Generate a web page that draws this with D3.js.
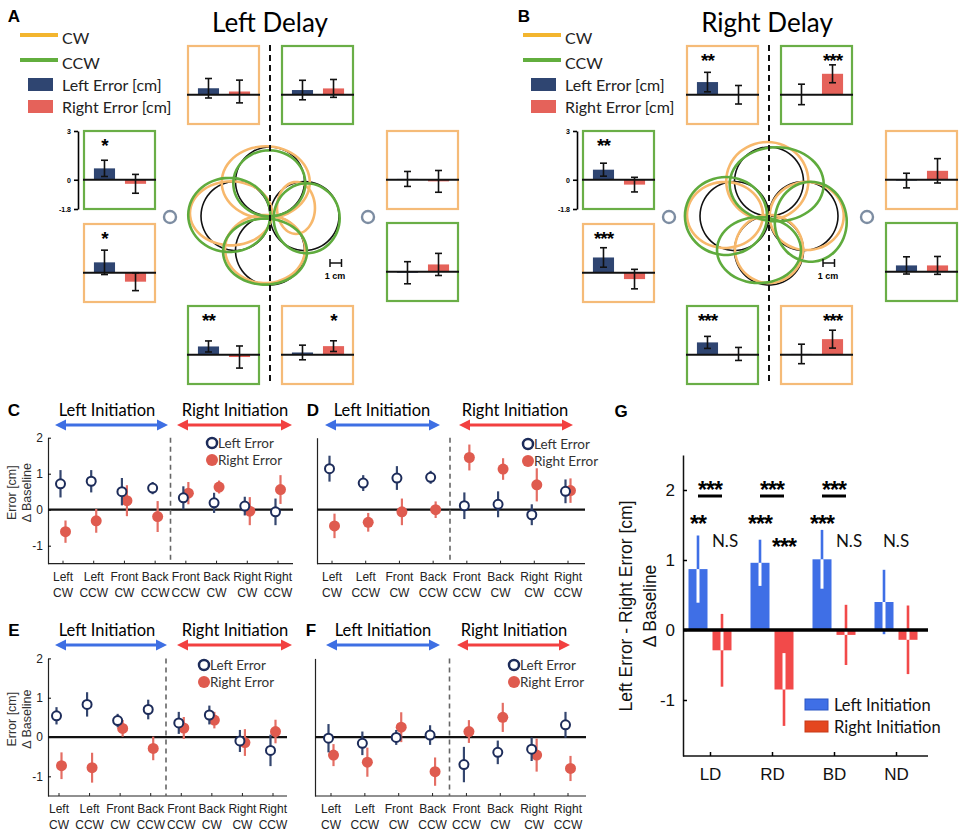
<!DOCTYPE html>
<html>
<head>
<meta charset="utf-8">
<script src="https://cdn.jsdelivr.net/npm/d3@7"></script>
<style>
  body { margin: 0; background: #fff; }
  svg { display: block; }
</style>
</head>
<body>
<svg id="fig" width="963" height="837"></svg>
<script>
(function (d3) {
    'use strict';

    // ---- panels A / B : mini bar boxes around the flower ----
    var miniPositions = ['topL', 'topR', 'leftU', 'leftL', 'rightU', 'rightL', 'botL', 'botR'];
    var miniDirs = ['CW', 'CCW', 'CCW', 'CW', 'CW', 'CCW', 'CCW', 'CW'];

    var leftDelayL = [0.4, 0.29, 0.7, 0.64, 0.05, -0.06, 0.51, 0.14];
    var leftDelayLErr = [0.6, 0.6, 0.5, 0.75, 0.46, 0.68, 0.34, 0.45];
    var leftDelayR = [0.2, 0.39, -0.25, -0.55, -0.1, 0.45, -0.14, 0.53];
    var leftDelayRErr = [0.7, 0.55, 0.58, 0.55, 0.67, 0.68, 0.68, 0.33];
    var leftDelayLStars = ['', '', '*', '*', '', '', '**', ''];
    var leftDelayRStars = ['', '', '', '', '', '', '', '*'];

    var rightDelayL = [0.78, 0.02, 0.62, 0.94, -0.05, 0.39, 0.76, 0.05];
    var rightDelayLErr = [0.6, 0.63, 0.4, 0.6, 0.45, 0.53, 0.37, 0.6];
    var rightDelayR = [0.0, 1.29, -0.3, -0.39, 0.55, 0.39, 0.05, 0.96];
    var rightDelayRErr = [0.57, 0.55, 0.45, 0.6, 0.75, 0.55, 0.4, 0.55];
    var rightDelayLStars = ['**', '', '**', '***', '', '', '***', ''];
    var rightDelayRStars = ['', '***', '', '', '', '', '', '***'];

    // flower targets (cm): top, left, right, bottom; radius 3 cm
    var flowerTargets = [[0, 3], [-3, 0], [3, 0], [0, -3]];
    var targetRadius = 3;
    // trajectories [cx, cy, rx, ry] in cm
    var leftDelayCW = [[-0.37, 2.93, 3.83, 3.13], [-3.39, 0.23, 3.57, 2.78], [2.26, 0.7, 1.65, 2.26], [-0.43, -2.87, 3.48, 2.96]];
    var leftDelayCCW = [[-0.06, 2.84, 3.13, 2.87], [-3.54, 0.09, 3.57, 3.22], [3.19, -0.2, 2.87, 3.04], [-0.43, -3.1, 3.65, 2.87]];
    var rightDelayCW = [[-0.15, 3.04, 3.57, 3.39], [-3.83, 0.09, 3.3, 2.87], [3.28, 0, 3.22, 2.96], [0, -2.87, 2.96, 2.96]];
    var rightDelayCCW = [[0.67, 2.76, 4.09, 3.22], [-3.74, 0, 3.57, 3.39], [3.63, -0.5, 3.13, 3.48], [-0.87, -2.96, 3.65, 2.87]];

    // ---- panels C-F : scatter with error bars ----
    var catTop = ['Left', 'Left', 'Front', 'Back', 'Front', 'Back', 'Right', 'Right'];
    var catBottom = ['CW', 'CCW', 'CW', 'CCW', 'CCW', 'CW', 'CW', 'CCW'];

    var cLeft = [0.72, 0.79, 0.5, 0.6, 0.33, 0.19, 0.1, -0.06];
    var cLeftErr = [0.38, 0.31, 0.38, 0.17, 0.32, 0.28, 0.26, 0.37];
    var cRight = [-0.61, -0.31, 0.25, -0.19, 0.46, 0.63, -0.04, 0.56];
    var cRightErr = [0.31, 0.33, 0.43, 0.43, 0.31, 0.18, 0.39, 0.4];

    var dLeft = [1.14, 0.74, 0.88, 0.9, 0.11, 0.15, -0.14, 0.51];
    var dLeftErr = [0.36, 0.22, 0.33, 0.18, 0.37, 0.36, 0.29, 0.33];
    var dRight = [-0.45, -0.35, -0.06, 0.0, 1.45, 1.13, 0.69, 0.53];
    var dRightErr = [0.34, 0.26, 0.37, 0.23, 0.36, 0.3, 0.46, 0.34];

    var eLeft = [0.54, 0.83, 0.42, 0.7, 0.36, 0.56, -0.1, -0.34];
    var eLeftErr = [0.22, 0.31, 0.17, 0.25, 0.28, 0.24, 0.28, 0.4];
    var eRight = [-0.73, -0.78, 0.22, -0.29, 0.23, 0.43, -0.14, 0.14];
    var eRightErr = [0.34, 0.38, 0.21, 0.3, 0.28, 0.21, 0.34, 0.3];

    var fLeft = [-0.03, -0.16, -0.01, 0.05, -0.7, -0.39, -0.31, 0.31];
    var fLeftErr = [0.36, 0.3, 0.19, 0.25, 0.45, 0.3, 0.3, 0.33];
    var fRight = [-0.46, -0.64, 0.25, -0.88, 0.14, 0.5, -0.46, -0.8];
    var fRightErr = [0.28, 0.37, 0.38, 0.36, 0.29, 0.37, 0.42, 0.32];

    var scatterTicks = [-1, 0, 1, 2];

    // ---- panel G ----
    var gCats = ['LD', 'RD', 'BD', 'ND'];
    var gLeftInit = [0.87, 0.96, 1.01, 0.4];
    var gLeftInitErr = [0.48, 0.33, 0.42, 0.46];
    var gRightInit = [-0.29, -0.85, -0.07, -0.14];
    var gRightInitErr = [0.52, 0.52, 0.43, 0.49];
    var gLeftLabels = ['**', '***', '***', ''];
    var gRightLabels = ['N.S', '***', 'N.S', ''];
    var gPairLabels = ['***', '***', '***', 'N.S'];
    var gTicks = [-1, 0, 1, 2];

    // colours
    var navyBar = '#2f4571', redBar = '#e5625a';
    var boxOrange = '#f5bb78', boxGreen = '#6aae47';
    var cwLine = '#f3b52e', ccwLine = '#62ae3e';
    var trajOrange = '#f7b86c', trajGreen = '#5fab3d';
    var scNavy = '#1d2c5a', scNavyErr = '#34466f', scRed = '#df5b4f', scRedErr = '#e46e64';
    var arrowBlue = '#3e6fe3', arrowRed = '#f24040';
    var gBlue = '#3f6fe6', gRed = '#f24a4a';

    var sans = '"Liberation Sans", Arial, sans-serif';
    var soft = 'Lato, "Open Sans", sans-serif';
    var plainFmt = function (v) { return String(v); };

    var svg = d3.select('#fig');
    svg.append('rect').attr('width', 963).attr('height', 837).attr('fill', '#fff');

    function panelLetter(t, x, y) {
        svg.append('text').attr('x', x).attr('y', y).text(t)
            .attr('font-family', sans).attr('font-weight', 'bold').attr('font-size', 17)
            .attr('dominant-baseline', 'central').attr('text-anchor', 'middle');
    }

    function stars(g, t, x, cy, fs) {
        g.append('text').attr('x', x).attr('y', cy + 0.55 * fs).text(t)
            .attr('font-family', sans).attr('font-weight', 'bold').attr('font-size', fs)
            .attr('text-anchor', 'middle').attr('letter-spacing', -1);
    }

    // box offsets from flower centre x
    var boxLayout = {
        topL: [-82, 46], topR: [12, 46], leftU: [-186, 131], leftL: [-186, 224],
        rightU: [117, 131], rightL: [117, 223], botL: [-82, 306], botR: [12, 306]
    };

    function drawDelay(cfg) {
        var g = svg.append('g');
        var cx = cfg.cx, cy = 216;

        g.append('text').attr('x', cfg.titleX).attr('y', 22).text(cfg.title)
            .attr('font-family', soft).attr('font-size', 26)
            .attr('text-anchor', 'middle').attr('dominant-baseline', 'central');

        // legend
        var lx = cfg.legendX;
        [['CW', cwLine, 35], ['CCW', ccwLine, 60]].forEach(function (d) {
            g.append('line').attr('x1', lx).attr('x2', lx + 38).attr('y1', d[2]).attr('y2', d[2])
                .attr('stroke', d[1]).attr('stroke-width', 4);
            g.append('text').attr('x', lx + 42).attr('y', d[2] + 2).text(d[0])
                .attr('font-family', soft).attr('font-size', 16).attr('dominant-baseline', 'central')
                .attr('fill', '#222');
        });
        [['Left Error [cm]', navyBar, 84], ['Right Error [cm]', redBar, 106]].forEach(function (d) {
            g.append('rect').attr('x', lx + 8).attr('y', d[2] - 6).attr('width', 25).attr('height', 13)
                .attr('fill', d[1]);
            g.append('text').attr('x', lx + 42).attr('y', d[2]).text(d[0])
                .attr('font-family', soft).attr('font-size', 16).attr('dominant-baseline', 'central')
                .attr('fill', '#222');
        });

        // flower
        var fx = d3.scaleLinear().domain([-1, 1]).range([cx - 11.5, cx + 11.5]);
        var fy = d3.scaleLinear().domain([-1, 1]).range([cy + 11.5, cy - 11.5]);
        var angles = d3.range(0, 360, 12).map(function (a) { return a * Math.PI / 180; });
        var loop = d3.line().curve(d3.curveCardinalClosed);
        function ellipse(e) {
            return loop(angles.map(function (a) {
                return [fx(e[0] + e[2] * Math.cos(a)), fy(e[1] + e[3] * Math.sin(a))];
            }));
        }
        flowerTargets.forEach(function (t) {
            g.append('path').attr('d', ellipse([t[0], t[1], targetRadius, targetRadius]))
                .attr('fill', 'none').attr('stroke', '#111').attr('stroke-width', 1.6);
        });
        cfg.cw.forEach(function (e) {
            g.append('path').attr('d', ellipse(e)).attr('fill', 'none')
                .attr('stroke', trajOrange).attr('stroke-width', 2.6);
        });
        cfg.ccw.forEach(function (e) {
            g.append('path').attr('d', ellipse(e)).attr('fill', 'none')
                .attr('stroke', trajGreen).attr('stroke-width', 2.6);
        });

        // side start markers
        [cx - 100, cx + 98].forEach(function (x) {
            g.append('circle').attr('cx', x).attr('cy', 217).attr('r', 6)
                .attr('fill', 'none').attr('stroke', '#7d8da2').attr('stroke-width', 2.4);
        });

        // scale bar
        var sb = cx + cfg.scaleOff;
        g.append('line').attr('x1', sb).attr('x2', sb + 11.5).attr('y1', 263).attr('y2', 263)
            .attr('stroke', '#111').attr('stroke-width', 1.5);
        [sb, sb + 11.5].forEach(function (x) {
            g.append('line').attr('x1', x).attr('x2', x).attr('y1', 259).attr('y2', 267)
                .attr('stroke', '#111').attr('stroke-width', 1.5);
        });
        g.append('text').attr('x', sb + 5).attr('y', 276).text('1 cm')
            .attr('font-family', sans).attr('font-weight', 'bold').attr('font-size', 9)
            .attr('text-anchor', 'middle').attr('dominant-baseline', 'central');

        // mini boxes
        var bw = 71, bh = 78;
        var bx = d3.scaleBand().domain(['L', 'R']).range([0, 72]).paddingInner(0.32).paddingOuter(0.32);
        miniPositions.forEach(function (pos, i) {
            var off = boxLayout[pos];
            var x0 = cx + off[0], y0 = off[1];
            var y = d3.scaleLinear().domain([-1.8, 3]).range([y0 + bh, y0]);
            var bg = g.append('g');
            bg.append('rect').attr('x', x0).attr('y', y0).attr('width', bw).attr('height', bh)
                .attr('fill', '#fff').attr('stroke', miniDirs[i] === 'CW' ? boxOrange : boxGreen)
                .attr('stroke-width', 2.2);
            var series = [
                ['L', cfg.L[i], cfg.LErr[i], navyBar, cfg.LStars[i]],
                ['R', cfg.R[i], cfg.RErr[i], redBar, cfg.RStars[i]]
            ];
            series.forEach(function (s) {
                bg.append('rect').attr('x', x0 + bx(s[0])).attr('width', bx.bandwidth())
                    .attr('y', y(Math.max(0, s[1]))).attr('height', Math.abs(y(s[1]) - y(0)))
                    .attr('fill', s[3]);
            });
            bg.append('line').attr('x1', x0 - 1).attr('x2', x0 + bw + 1).attr('y1', y(0)).attr('y2', y(0))
                .attr('stroke', '#111').attr('stroke-width', 2);
            series.forEach(function (s) {
                var mx = x0 + bx(s[0]) + bx.bandwidth() / 2;
                var lo = y(s[1] - s[2]), hi = y(s[1] + s[2]);
                bg.append('line').attr('x1', mx).attr('x2', mx).attr('y1', lo).attr('y2', hi)
                    .attr('stroke', '#111').attr('stroke-width', 1.6);
                [lo, hi].forEach(function (yy) {
                    bg.append('line').attr('x1', mx - 3.5).attr('x2', mx + 3.5).attr('y1', yy).attr('y2', yy)
                        .attr('stroke', '#111').attr('stroke-width', 1.6);
                });
                if (s[4]) { stars(bg, s[4], mx, y0 + 11, 19); }
            });
            if (pos === 'leftU') {
                var ax = bg.append('g').attr('transform', 'translate(' + (x0 - 6) + ',0)')
                    .call(d3.axisLeft(y).tickValues([3, 0, -1.8]).tickSize(4).tickSizeOuter(0)
                        .tickFormat(plainFmt));
                ax.select('.domain').attr('stroke-width', 1.6);
                ax.selectAll('line').attr('stroke-width', 1.6);
                ax.selectAll('text').attr('font-size', 7).attr('font-family', sans).attr('font-weight', 'bold');
            }
        });

        // midline
        g.append('line').attr('x1', cx).attr('x2', cx).attr('y1', 45).attr('y2', 385)
            .attr('stroke', '#111').attr('stroke-width', 2).attr('stroke-dasharray', '6,4');
    }

    drawDelay({
        cx: 270, title: 'Left Delay', titleX: 270, legendX: 20, scaleOff: 60,
        cw: leftDelayCW, ccw: leftDelayCCW,
        L: leftDelayL, LErr: leftDelayLErr, R: leftDelayR, RErr: leftDelayRErr,
        LStars: leftDelayLStars, RStars: leftDelayRStars
    });
    drawDelay({
        cx: 769, title: 'Right Delay', titleX: 767, legendX: 523, scaleOff: 54,
        cw: rightDelayCW, ccw: rightDelayCCW,
        L: rightDelayL, LErr: rightDelayLErr, R: rightDelayR, RErr: rightDelayRErr,
        LStars: rightDelayLStars, RStars: rightDelayRStars
    });
    panelLetter('A', 14, 16);
    panelLetter('B', 524, 16);

    function arrow(g, x1, x2, y, color) {
        g.append('line').attr('x1', x1 + 6).attr('x2', x2 - 6).attr('y1', y).attr('y2', y)
            .attr('stroke', color).attr('stroke-width', 3);
        g.append('path').attr('d', 'M' + x1 + ',' + y + 'L' + (x1 + 11) + ',' + (y - 5.5) + 'L' + (x1 + 11) + ',' + (y + 5.5) + 'Z')
            .attr('fill', color);
        g.append('path').attr('d', 'M' + x2 + ',' + y + 'L' + (x2 - 11) + ',' + (y - 5.5) + 'L' + (x2 - 11) + ',' + (y + 5.5) + 'Z')
            .attr('fill', color);
    }

    function drawScatter(cfg) {
        var g = svg.append('g');
        var y = d3.scaleLinear().domain([-1.5, 2]).range([cfg.yBottom, cfg.yTop]);
        var x = d3.scalePoint().domain(d3.range(8)).range(cfg.catRange);

        // headers
        g.append('text').attr('x', cfg.lt[0]).attr('y', cfg.titleY).text('Left Initiation')
            .attr('font-family', soft).attr('font-size', 16.5).attr('text-anchor', 'middle')
            .attr('dominant-baseline', 'central');
        g.append('text').attr('x', cfg.rt[0]).attr('y', cfg.titleY).text('Right Initiation')
            .attr('font-family', soft).attr('font-size', 16.5).attr('text-anchor', 'middle')
            .attr('dominant-baseline', 'central');
        arrow(g, cfg.lt[1], cfg.lt[2], cfg.titleY + 15, arrowBlue);
        arrow(g, cfg.rt[1], cfg.rt[2], cfg.titleY + 15, arrowRed);

        // axes
        var ya = g.append('g').attr('transform', 'translate(' + cfg.axisX + ',0)')
            .call(d3.axisLeft(y).tickValues(cfg.showY ? scatterTicks : []).tickFormat(plainFmt)
                .tickSize(-3).tickSizeOuter(0).tickPadding(5));
        ya.select('.domain').attr('stroke', '#222').attr('stroke-width', 1.2);
        ya.selectAll('text').attr('font-family', sans).attr('font-size', 12).attr('fill', '#222');
        g.append('line').attr('x1', cfg.axisX).attr('x2', cfg.axisEnd)
            .attr('y1', cfg.yBottom).attr('y2', cfg.yBottom).attr('stroke', '#222').attr('stroke-width', 1.2);
        d3.range(8).forEach(function (i) {
            g.append('line').attr('x1', x(i)).attr('x2', x(i)).attr('y1', cfg.yBottom).attr('y2', cfg.yBottom - 3)
                .attr('stroke', '#222');
            g.append('text').attr('x', x(i)).attr('y', cfg.yBottom + 13).text(catTop[i])
                .attr('font-family', sans).attr('font-size', 12).attr('text-anchor', 'middle')
                .attr('dominant-baseline', 'central').attr('fill', '#222');
            g.append('text').attr('x', x(i)).attr('y', cfg.yBottom + 29).text(catBottom[i])
                .attr('font-family', sans).attr('font-size', 12).attr('text-anchor', 'middle')
                .attr('dominant-baseline', 'central').attr('fill', '#222');
        });
        if (cfg.showY) {
            var my = (cfg.yTop + cfg.yBottom) / 2 - 8;
            [['Error [cm]', 12], ['\u0394 Baseline', 27]].forEach(function (d) {
                g.append('text').attr('transform', 'translate(' + d[1] + ',' + my + ') rotate(-90)')
                    .text(d[0]).attr('font-family', sans).attr('font-size', 12.5).attr('fill', '#333')
                    .attr('text-anchor', 'middle').attr('dominant-baseline', 'central');
            });
        }

        // zero line and split
        g.append('line').attr('x1', cfg.axisX).attr('x2', cfg.axisEnd).attr('y1', y(0)).attr('y2', y(0))
            .attr('stroke', '#111').attr('stroke-width', 2.2);
        var split = (x(3) + x(4)) / 2;
        g.append('line').attr('x1', split).attr('x2', split).attr('y1', cfg.yTop).attr('y2', cfg.yBottom)
            .attr('stroke', '#666').attr('stroke-width', 1.6).attr('stroke-dasharray', '5,4');

        // right error (filled red)
        cfg.R.forEach(function (v, i) {
            var px = x(i) + 2.5;
            g.append('line').attr('x1', px).attr('x2', px)
                .attr('y1', y(v - cfg.RErr[i])).attr('y2', y(v + cfg.RErr[i]))
                .attr('stroke', scRedErr).attr('stroke-width', 2.2);
            g.append('circle').attr('cx', px).attr('cy', y(v)).attr('r', 5.5).attr('fill', scRed);
        });
        // left error (open navy)
        cfg.L.forEach(function (v, i) {
            var px = x(i) - 2.5;
            g.append('line').attr('x1', px).attr('x2', px)
                .attr('y1', y(v - cfg.LErr[i])).attr('y2', y(v + cfg.LErr[i]))
                .attr('stroke', scNavyErr).attr('stroke-width', 2.2);
            g.append('circle').attr('cx', px).attr('cy', y(v)).attr('r', 4.5)
                .attr('fill', '#fff').attr('stroke', scNavy).attr('stroke-width', 2);
        });

        // legend
        var lg = cfg.legend;
        g.append('circle').attr('cx', lg[0]).attr('cy', lg[1]).attr('r', 5)
            .attr('fill', '#fff').attr('stroke', scNavy).attr('stroke-width', 2.5);
        g.append('circle').attr('cx', lg[0]).attr('cy', lg[1] + 17).attr('r', 6).attr('fill', scRed);
        [['Left Error', 0], ['Right Error', 17]].forEach(function (d) {
            g.append('text').attr('x', lg[0] + 6).attr('y', lg[1] + d[1]).text(d[0])
                .attr('font-family', soft).attr('font-size', 13.5).attr('fill', '#333')
                .attr('dominant-baseline', 'central');
        });
    }

    drawScatter({
        axisX: 48, axisEnd: 293, catRange: [63, 278], yTop: 437.7, yBottom: 563.7, showY: true,
        titleY: 410, lt: [107, 55, 168], rt: [235, 177, 292], legend: [212, 443],
        L: cLeft, LErr: cLeftErr, R: cRight, RErr: cRightErr
    });
    drawScatter({
        axisX: 317, axisEnd: 585, catRange: [332, 568], yTop: 437.7, yBottom: 563.7, showY: false,
        titleY: 410, lt: [382, 325, 440], rt: [515, 459, 573], legend: [528, 444],
        L: dLeft, LErr: dLeftErr, R: dRight, RErr: dRightErr
    });
    drawScatter({
        axisX: 48, axisEnd: 287, catRange: [59, 273], yTop: 658.4, yBottom: 796, showY: true,
        titleY: 630, lt: [107, 55, 167], rt: [235, 177, 292], legend: [204, 665],
        L: eLeft, LErr: eLeftErr, R: eRight, RErr: eRightErr
    });
    drawScatter({
        axisX: 315, axisEnd: 586, catRange: [331, 568], yTop: 658.4, yBottom: 796, showY: false,
        titleY: 630, lt: [383, 326, 440], rt: [514, 457, 570], legend: [514, 665],
        L: fLeft, LErr: fLeftErr, R: fRight, RErr: fRightErr
    });
    panelLetter('C', 14, 410);
    panelLetter('D', 313, 410);
    panelLetter('E', 14, 630);
    panelLetter('F', 311, 630);

    // ---- panel G ----
    (function () {
        var g = svg.append('g');
        var y = d3.scaleLinear().domain([-1.8, 2.5]).range([756, 455]);
        var x = d3.scalePoint().domain(gCats).range([710, 896]);
        var bw = 19, off = 12;

        var ya = g.append('g').attr('transform', 'translate(683,0)')
            .call(d3.axisLeft(y).tickValues(gTicks).tickFormat(plainFmt).tickSize(-4).tickSizeOuter(0).tickPadding(8));
        ya.select('.domain').attr('stroke', '#111').attr('stroke-width', 1.5);
        ya.selectAll('line').attr('stroke-width', 1.5);
        ya.selectAll('text').attr('font-family', sans).attr('font-size', 17).attr('fill', '#111');

        var xa = g.append('g').attr('transform', 'translate(0,756)')
            .call(d3.axisBottom(x).tickSize(-4).tickSizeOuter(0).tickPadding(12));
        xa.select('.domain').attr('d', 'M683,0H928').attr('stroke', '#111').attr('stroke-width', 1.5);
        xa.selectAll('line').attr('stroke-width', 1.5);
        xa.selectAll('text').attr('font-family', sans).attr('font-size', 17).attr('fill', '#111');

        [['Left Error - Right Error [cm]', 626], ['\u0394 Baseline', 650]].forEach(function (d) {
            g.append('text').attr('transform', 'translate(' + d[1] + ',606) rotate(-90)')
                .text(d[0]).attr('font-family', sans).attr('font-size', 17.5).attr('fill', '#111')
                .attr('text-anchor', 'middle').attr('dominant-baseline', 'central');
        });

        function bar(cat, v, e, dx, color) {
            var cx = x(cat) + dx;
            g.append('rect').attr('x', cx - bw / 2).attr('width', bw)
                .attr('y', y(Math.max(0, v))).attr('height', Math.abs(y(v) - y(0))).attr('fill', color);
            g.append('line').attr('x1', cx).attr('x2', cx).attr('y1', y(v - e)).attr('y2', y(v + e))
                .attr('stroke', color).attr('stroke-width', 2.6);
            // part of the error line inside the bar shows white
            var a = Math.max(Math.min(0, v), v - e), b = Math.min(Math.max(0, v), v + e);
            if (b > a) {
                g.append('line').attr('x1', cx).attr('x2', cx).attr('y1', y(a)).attr('y2', y(b))
                    .attr('stroke', '#fff').attr('stroke-width', 3);
            }
        }
        gCats.forEach(function (c, i) {
            bar(c, gLeftInit[i], gLeftInitErr[i], -off, gBlue);
            bar(c, gRightInit[i], gRightInitErr[i], off, gRed);
        });

        g.append('line').attr('x1', 683).attr('x2', 928).attr('y1', y(0)).attr('y2', y(0))
            .attr('stroke', '#000').attr('stroke-width', 3.5);

        function label(t, cx, cy) {
            if (t === 'N.S') {
                g.append('text').attr('x', cx).attr('y', cy).text(t)
                    .attr('font-family', soft).attr('font-size', 17).attr('text-anchor', 'middle')
                    .attr('dominant-baseline', 'central').attr('fill', '#111');
            } else if (t) {
                stars(g, t, cx, cy, 23);
            }
        }
        gCats.forEach(function (c, i) {
            label(gLeftLabels[i], x(c) - off, 519);
            label(gRightLabels[i], x(c) + off + (gRightLabels[i] === 'N.S' ? 3 : 0), gRightLabels[i] === 'N.S' ? 540 : 542);
            if (gPairLabels[i] === '***') {
                g.append('line').attr('x1', x(c) - off).attr('x2', x(c) + off).attr('y1', 496).attr('y2', 496)
                    .attr('stroke', '#000').attr('stroke-width', 3);
                label(gPairLabels[i], x(c), 485);
            } else {
                label(gPairLabels[i], x(c), 540);
            }
        });

        // legend
        [['Left Initiation', gBlue, '#2a56c4', 705], ['Right Initiation', '#e4461f', '#c83a18', 727]].forEach(function (d) {
            g.append('rect').attr('x', 805).attr('y', d[3] - 6).attr('width', 23).attr('height', 11)
                .attr('fill', d[1]).attr('stroke', d[2]).attr('stroke-width', 1);
            g.append('text').attr('x', 834).attr('y', d[3]).text(d[0])
                .attr('font-family', soft).attr('font-size', 16.5).attr('fill', '#111')
                .attr('dominant-baseline', 'central');
        });
    }());
    panelLetter('G', 621, 411);

}(window.d3));
</script>
</body>
</html>
